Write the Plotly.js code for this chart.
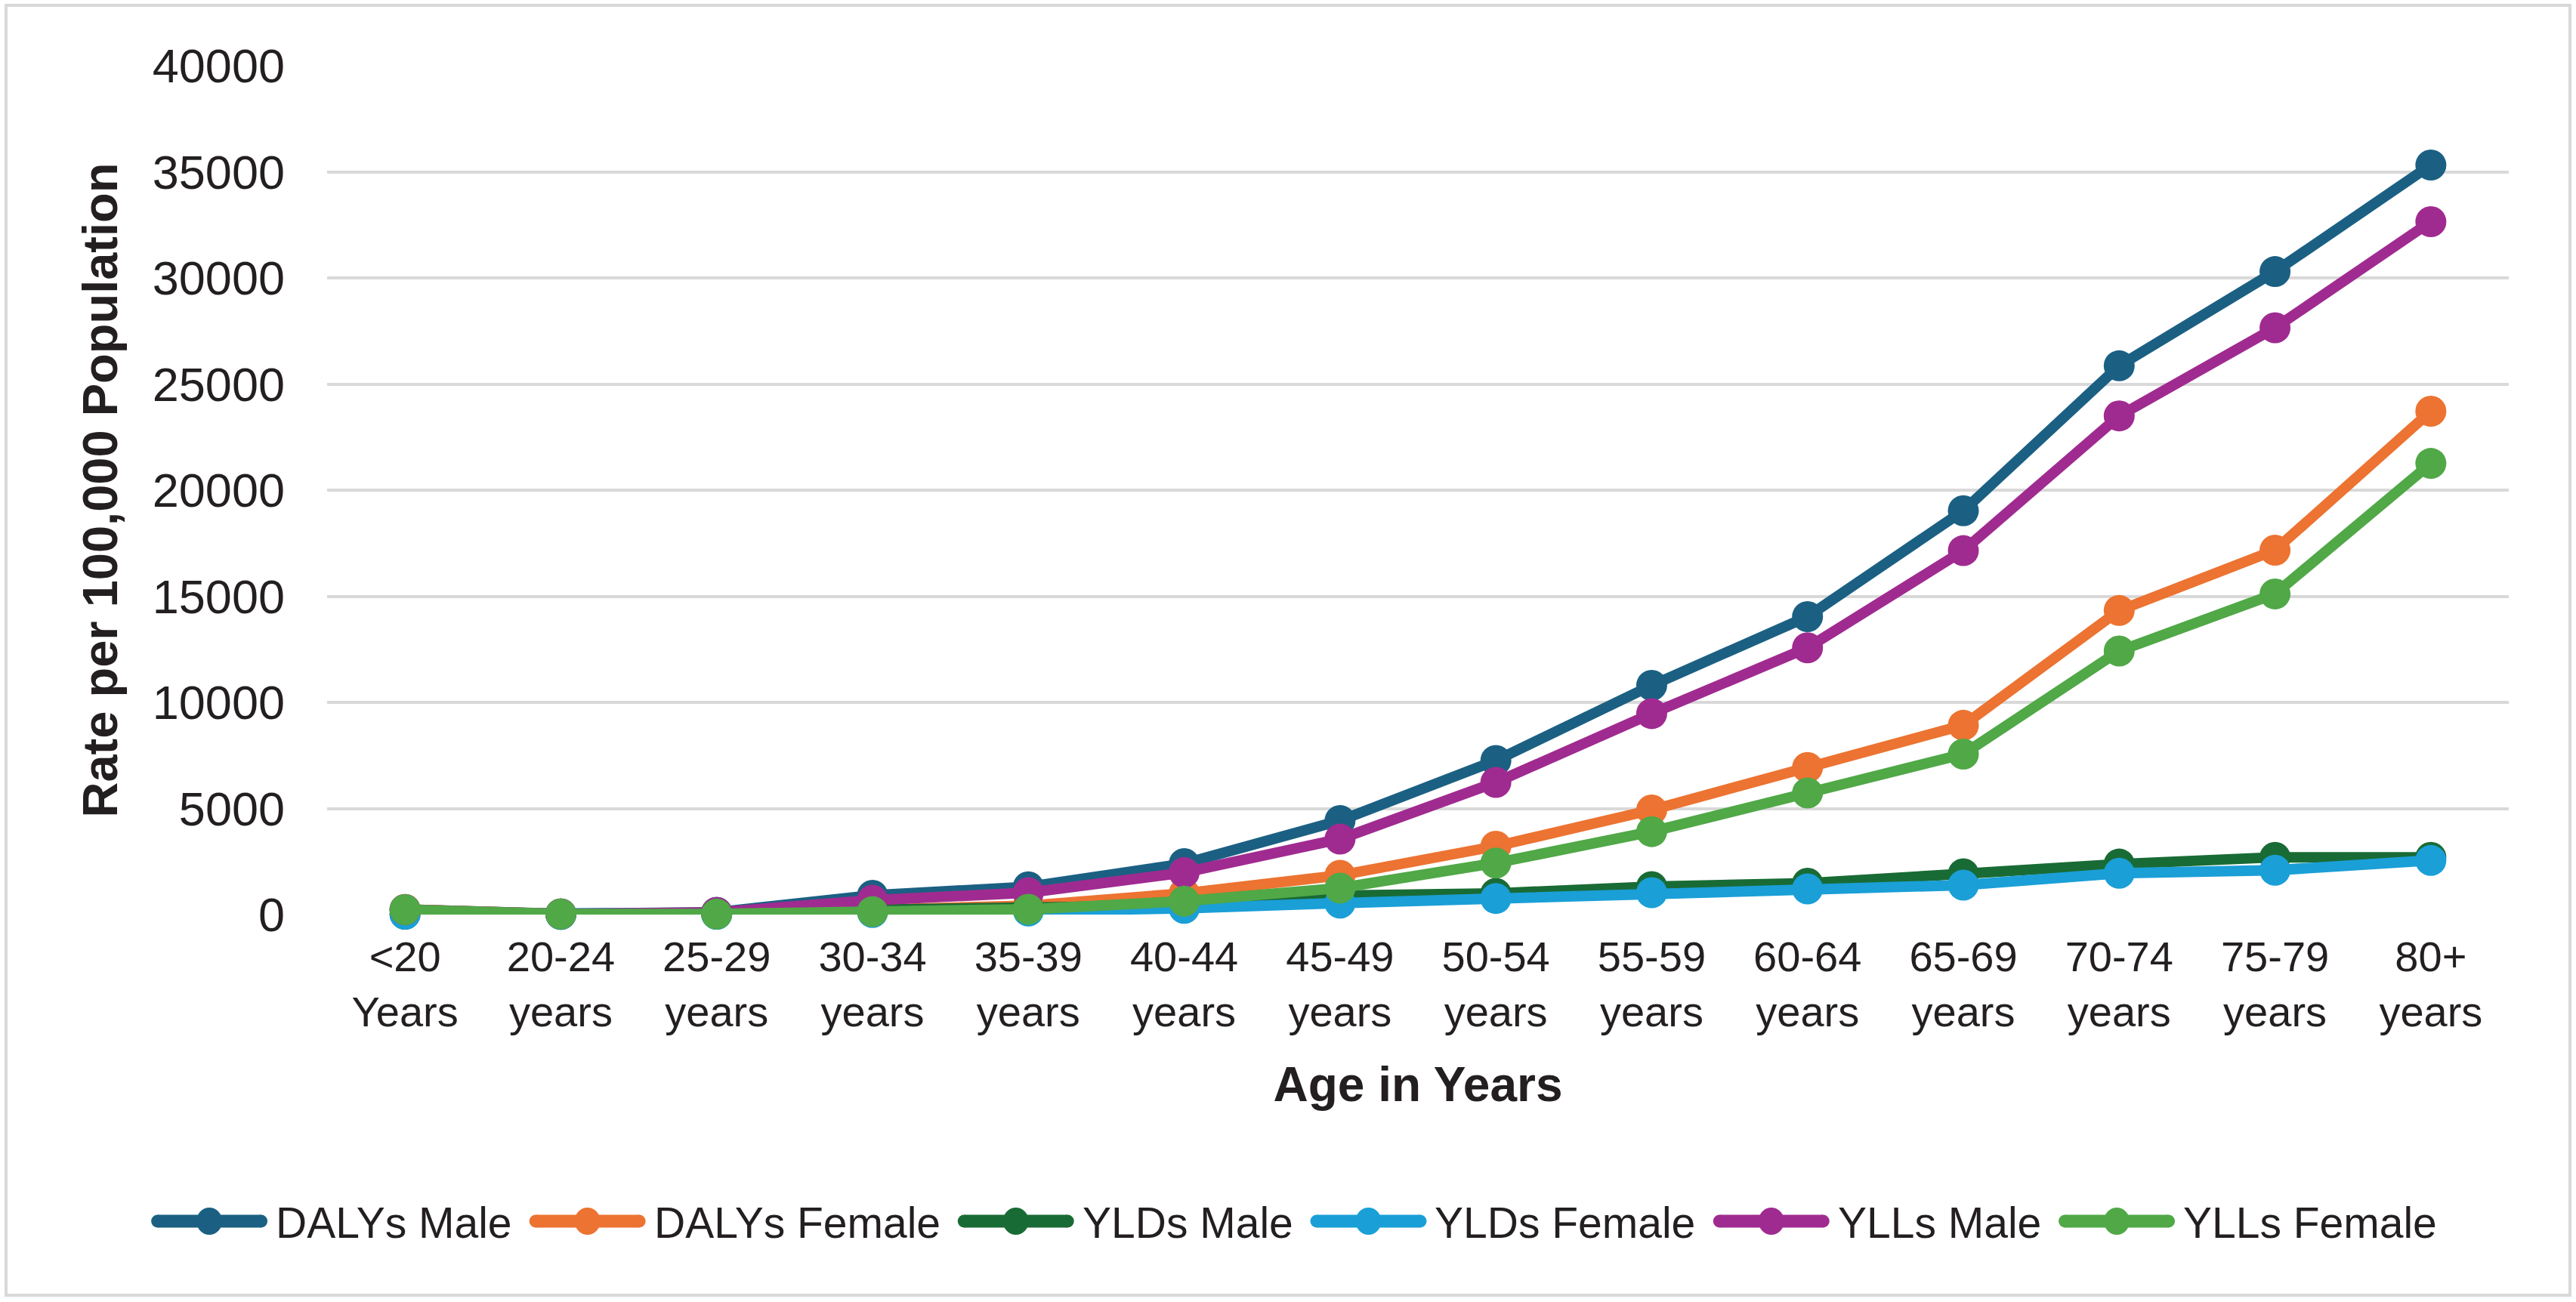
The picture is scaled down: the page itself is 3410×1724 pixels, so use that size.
<!DOCTYPE html>
<html>
<head>
<meta charset="utf-8">
<script src="https://cdn.plot.ly/plotly-3.0.1.min.js"></script>
<style>html,body{margin:0;padding:0;background:#fff;}#chart{width:3410px;height:1724px;}</style>
</head>
<body>
<div id="chart"></div>
<script>
// ---- data ----
const ageGroups = ['&lt;20<br>Years', '20-24<br>years', '25-29<br>years', '30-34<br>years', '35-39<br>years',
  '40-44<br>years', '45-49<br>years', '50-54<br>years', '55-59<br>years', '60-64<br>years',
  '65-69<br>years', '70-74<br>years', '75-79<br>years', '80+<br>years'];
const dalysMale   = [240, 40, 110, 910, 1310, 2400, 4430, 7260, 10800, 14040, 19030, 25860, 30300, 35320];
const dalysFemale = [240, 30, 40, 250, 420, 1000, 1850, 3220, 4930, 6930, 8920, 14330, 17170, 23720];
const yldsMale    = [20, 10, 20, 230, 280, 430, 900, 1000, 1320, 1480, 1920, 2380, 2700, 2700];
const yldsFemale  = [20, 10, 15, 100, 170, 290, 540, 760, 1030, 1210, 1390, 1950, 2090, 2550];
const yllsMale    = [230, 30, 100, 680, 1030, 1980, 3560, 6230, 9470, 12570, 17150, 23500, 27650, 32650];
const yllsFemale  = [230, 25, 30, 140, 250, 630, 1250, 2430, 3910, 5730, 7560, 12420, 15110, 21260];

const seriesNames  = ['DALYs Male', 'DALYs Female', 'YLDs Male', 'YLDs Female', 'YLLs Male', 'YLLs Female'];
const seriesValues = [dalysMale, dalysFemale, yldsMale, yldsFemale, yllsMale, yllsFemale];
const seriesColors = ['#1B6083', '#EC7331', '#196B35', '#1A9FD7', '#A02B90', '#50A847'];

// ---- layout geometry ----
const W = 3410, H = 1724;
const M = {l: 433, r: 89, t: 87, b: 513};
const plotW = W - M.l - M.r, plotH = H - M.t - M.b;
const px2x = p => (p - M.l) / plotW;
const px2y = p => (H - M.b - p) / plotH;
const FONT = 'Liberation Sans, Arial, sans-serif';
const TXT = '#231F20';

const traces = seriesNames.map((name, i) => ({
  type: 'scatter',
  mode: 'lines+markers',
  name: name,
  x: ageGroups,
  y: seriesValues[i],
  line: {color: seriesColors[i], width: 14},
  marker: {color: seriesColors[i], size: 41},
  cliponaxis: false,
  showlegend: false
}));

// ---- legend drawn as shapes + annotations (Excel-style long symbols) ----
const LEG = {y: 1617, fontSize: 57, lineLen: 154, lineW: 17, markerD: 34, textGap: 11, itemGap: 23, center: W / 2 + 8};
const canvas = document.createElement('canvas');
const ctx = canvas.getContext('2d');
ctx.font = LEG.fontSize + 'px "Liberation Sans", Arial, sans-serif';
const textW = seriesNames.map(n => ctx.measureText(n).width);
const totalW = textW.reduce((s, w) => s + LEG.lineLen + LEG.textGap + w, 0) + LEG.itemGap * (seriesNames.length - 1);
let cursor = LEG.center - totalW / 2;
const legendShapes = [];
const legendAnnots = [];
seriesNames.forEach((name, i) => {
  const x0 = cursor, x1 = cursor + LEG.lineLen, xm = (x0 + x1) / 2;
  const r = LEG.lineW / 2;
  legendShapes.push({type: 'line', xref: 'paper', yref: 'paper', x0: px2x(x0 + r), x1: px2x(x1 - r), y0: px2y(LEG.y), y1: px2y(LEG.y),
    line: {color: seriesColors[i], width: LEG.lineW}});
  [x0 + r, x1 - r].forEach(cx => legendShapes.push({type: 'circle', xref: 'paper', yref: 'paper',
    x0: px2x(cx - r), x1: px2x(cx + r), y0: px2y(LEG.y + r), y1: px2y(LEG.y - r),
    fillcolor: seriesColors[i], line: {width: 0}}));
  const mr = LEG.markerD / 2;
  legendShapes.push({type: 'circle', xref: 'paper', yref: 'paper',
    x0: px2x(xm - mr), x1: px2x(xm + mr), y0: px2y(LEG.y + mr + 1), y1: px2y(LEG.y - mr - 1),
    fillcolor: seriesColors[i], line: {width: 0}});
  legendAnnots.push({xref: 'paper', yref: 'paper', x: px2x(x1 + LEG.textGap - 2), y: px2y(LEG.y + 2),
    xanchor: 'left', yanchor: 'middle', showarrow: false, text: name,
    font: {family: FONT, size: LEG.fontSize, color: TXT}});
  cursor = x1 + LEG.textGap + textW[i] + LEG.itemGap;
});

const layout = {
  width: W, height: H,
  margin: M,
  paper_bgcolor: '#fff', plot_bgcolor: '#fff',
  font: {family: FONT, color: TXT},
  showlegend: false,
  xaxis: {
    type: 'category', range: [-0.5, 13.5],
    showgrid: false, showline: false, zeroline: false, ticks: '',
    tickfont: {family: FONT, size: 56, color: TXT},
    ticklabelstandoff: 18,
    title: {text: 'Age in Years', font: {family: FONT, size: 64, color: TXT, weight: 700}, standoff: 43}
  },
  yaxis: {
    range: [0, 40000], dtick: 5000, tick0: 0, tickformat: 'd',
    showgrid: true, gridcolor: '#D9D9D9', gridwidth: 4,
    zeroline: false, showline: false, ticks: '',
    tickfont: {family: FONT, size: 63, color: TXT},
    ticklabelstandoff: 55,
    title: {text: 'Rate per 100,000 Population', font: {family: FONT, size: 65, color: TXT, weight: 700}, standoff: 25}
  },
  shapes: [{
    type: 'rect', xref: 'paper', yref: 'paper',
    x0: px2x(8), x1: px2x(3402), y0: px2y(1715), y1: px2y(7),
    line: {color: '#D9D9D9', width: 4}, fillcolor: 'rgba(0,0,0,0)', layer: 'below'
  }].concat(legendShapes),
  annotations: legendAnnots
};

Plotly.newPlot('chart', traces, layout, {staticPlot: true, displayModeBar: false});
</script>
</body>
</html>
